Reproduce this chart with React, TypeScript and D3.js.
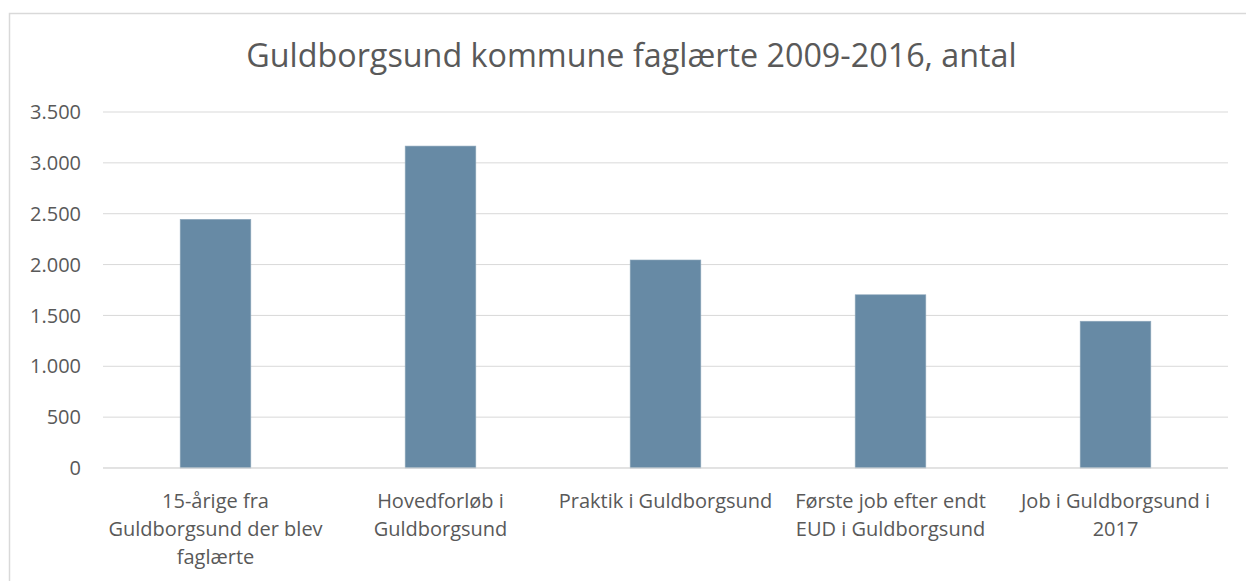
import React from "react";
import * as d3 from "d3";

const categories: string[][] = [
  ["15-årige fra", "Guldborgsund der blev", "faglærte"],
  ["Hovedforløb i", "Guldborgsund"],
  ["Praktik i Guldborgsund"],
  ["Første job efter endt", "EUD i Guldborgsund"],
  ["Job i Guldborgsund i", "2017"],
];
const values: number[] = [2445, 3165, 2045, 1703, 1443];
const yTicks: number[] = [0, 500, 1000, 1500, 2000, 2500, 3000, 3500];
const title = "Guldborgsund kommune faglærte 2009-2016, antal";

const W = 1246;
const H = 581;
const FONT = "'Open Sans', sans-serif";
const TEXT = "#595959";

export default function App() {
  const left = 103;
  const right = 1228;
  const top = 112;
  const bottom = 468;

  const x = d3
    .scaleBand<number>()
    .domain(values.map((_, i) => i))
    .range([left, right])
    .paddingInner(0.686)
    .paddingOuter(0.343);
  const y = d3.scaleLinear().domain([0, 3500]).range([bottom, top]);
  const fmt = (v: number) => d3.format(",")(v).replace(/,/g, ".");
  const band = (right - left) / values.length;

  return (
    <svg
      width={W}
      height={H}
      style={{ position: "absolute", left: 0, top: 0, background: "#fff" }}
    >
      <rect x={9.5} y={13.5} width={W} height={H} fill="#fff" stroke="#D9D9D9" strokeWidth={1.5} />
      <text
        x={631.5}
        y={67}
        textAnchor="middle"
        fontFamily={FONT}
        fontSize={32.3}
        fill={TEXT}
      >
        {title}
      </text>
      {yTicks.map((t) => (
        <g key={t}>
          <line x1={left} x2={right} y1={y(t)} y2={y(t)} stroke="#D9D9D9" strokeWidth={1} />
          <text
            x={81}
            y={y(t)}
            dy="0.36em"
            textAnchor="end"
            fontFamily={FONT}
            fontSize={20}
            fill={TEXT}
          >
            {fmt(t)}
          </text>
        </g>
      ))}
      {values.map((v, i) => (
        <rect
          key={i}
          x={x(i)}
          y={y(v)}
          width={x.bandwidth()}
          height={y(0) - y(v)}
          fill="#678AA5"
          stroke="#8FA8BC"
          strokeWidth={0.6}
        />
      ))}
      <line x1={left} x2={right} y1={bottom} y2={bottom} stroke="#D9D9D9" strokeWidth={1} />
      {categories.map((lines, i) => (
        <text
          key={i}
          x={left + band * (i + 0.5)}
          y={508}
          textAnchor="middle"
          fontFamily={FONT}
          fontSize={20}
          fill={TEXT}
        >
          {lines.map((l, j) => (
            <tspan key={j} x={left + band * (i + 0.5)} dy={j === 0 ? 0 : 28}>
              {l}
            </tspan>
          ))}
        </text>
      ))}
    </svg>
  );
}
